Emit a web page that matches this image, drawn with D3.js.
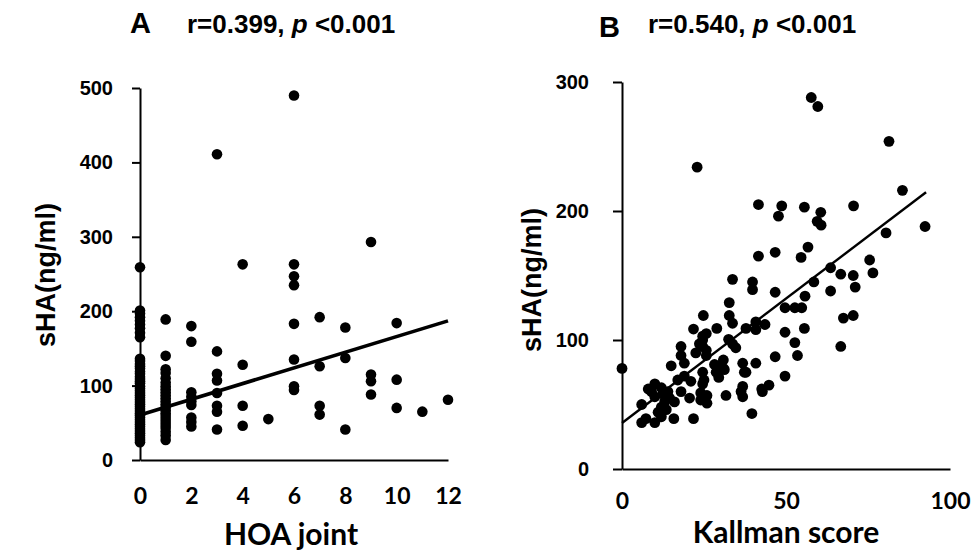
<!DOCTYPE html>
<html>
<head>
<meta charset="utf-8">
<script src="https://cdn.jsdelivr.net/npm/d3@7"></script>
<style>
  body { margin: 0; background: #fff; }
  svg { display: block; }
</style>
</head>
<body>
<svg id="plot" width="977" height="553"></svg>
<script>
// panel A: HOA joint count vs sHA
const hoaJoint = [0, 1, 2, 3, 4, 5, 6, 7, 8, 9, 10, 11, 12];
const shaByHoa = [
  [259, 201, 197, 192, 187, 182, 177, 171, 165, 136, 133, 129, 126, 123, 119, 116, 112, 109, 106, 103, 99, 96, 93, 90, 87, 84, 81, 78, 75, 72, 69, 66, 63, 60, 57, 54, 51, 48, 45, 42, 39, 36, 33, 30, 27, 24],
  [189, 140, 122, 117, 110, 104, 99, 95, 91, 87, 83, 79, 75, 71, 67, 63, 59, 55, 51, 47, 43, 38, 33, 27],
  [180, 159, 91, 85, 79, 74, 57, 51, 45],
  [411, 146, 116, 107, 90, 73, 65, 41],
  [263, 128, 73, 46],
  [55],
  [490, 263, 247, 235, 183, 135, 99, 94],
  [192, 126, 73, 61],
  [178, 137, 41],
  [293, 115, 106, 88],
  [184, 108, 70],
  [65],
  [81]
];
const fitA = [60.6, 10.53];   // intercept, slope

// panel B: Kallman score vs sHA
const kallman = [57.7, 59.7, 81.4, 22.9, 85.5, 41.6, 48.7, 47.7, 55.6, 60.6, 59.5, 60.7, 70.6, 80.5, 92.4, 56.7, 46.7, 41.6, 54.6, 75.5,
  63.6, 66.7, 70.5, 76.5, 33.7, 39.8, 39.8, 58.5, 46.7, 63.6, 71.1, 55.8, 32.7, 49.7, 52.7, 54.8,
  24.8, 32.7, 33.7, 67.5, 70.5, 40.8, 43.6, 37.8, 40.8, 28.9, 55.6, 49.7, 25.7, 21.8, 32.5, 34.7, 52.7, 66.7, 53.5, 46.7,
  24.6, 24.6, 25.7, 30.9, 36.8, 40.8, 28.9, 30.9, 37.8, 49.7, 24.6, 29.5, 31.2, 44.8, 36.8, 42.6, 24.6,
  0, 6, 6, 7.3, 10, 10, 9, 10, 12, 12.5, 13, 12, 14, 14.5, 12, 15.8, 21.8, 15, 18, 18, 19, 17, 19, 21, 18, 20.6,
  24, 24, 25, 23.6, 24.6, 25.7, 22.5, 25.9, 25.9, 28.2, 28.7, 31.7, 33.7, 37.3, 36.3, 36.8, 39.6, 42.8, 11, 13.5, 8, 16];
const shaB = [288, 281, 254, 234, 216, 205, 204, 196, 203, 199, 192, 189, 204, 183, 188, 172, 168, 165, 164, 162,
  156, 151, 150, 152, 147, 145, 139, 145, 137, 138, 141, 134, 129, 125, 125, 125,
  119, 119, 113, 117, 119, 114, 112, 109, 108, 109, 109, 106, 105, 108.5, 100.5, 94, 98, 95, 88, 87,
  100, 95, 88, 84.5, 82, 82, 80, 78, 75, 72, 75, 71, 77, 65, 64, 62, 66,
  78, 50, 36, 39, 36, 66, 60, 56, 63, 58, 52, 48, 60, 55, 40.5, 39, 39, 80, 95, 88, 82, 69, 72, 68, 60, 55,
  59, 53.5, 69, 97, 103, 92, 90, 57, 51, 81, 75, 57, 97, 75, 60, 56, 43, 60, 44, 46, 62, 52];
const fitB = [35.6, 1.93];    // intercept, slope
const fitBEnd = 92.7;

const aXTicks = [0, 2, 4, 6, 8, 10, 12];
const aYTicks = [0, 100, 200, 300, 400, 500];
const bXTicks = [0, 50, 100];
const bYTicks = [0, 100, 200, 300];

const plot = d3.select('#plot');

const numFont = '"Liberation Sans", Arial, sans-serif';
const calFont = 'Lato, "Open Sans", sans-serif';

/* panel A */
const xA = d3.scaleLinear().domain([0, 12]).range([140, 448]);
const yA = d3.scaleLinear().domain([0, 500]).range([460, 88]);

const gA = plot.append('g').classed('panelA', true);

const pointsA = hoaJoint.flatMap((h, i) => shaByHoa[i].map(v => ({x: h, y: v})));

gA.selectAll('circle')
  .data(pointsA)
  .enter().append('circle')
    .attr('cx', d => xA(d.x))
    .attr('cy', d => yA(d.y))
    .attr('r', 5.3)
    .attr('fill', '#000');

gA.append('line')
    .attr('x1', xA(0)).attr('y1', yA(fitA[0]))
    .attr('x2', xA(12)).attr('y2', yA(fitA[0] + fitA[1] * 12))
    .attr('stroke', '#000')
    .attr('stroke-width', 3.6);

gA.append('g')
    .classed('xAxis', true)
    .attr('transform', `translate(0, ${yA(0)})`)
    .call(d3.axisBottom(xA).tickValues(aXTicks).tickSize(0).tickPadding(28));

gA.append('g')
    .classed('yAxis', true)
    .attr('transform', `translate(${xA(0)}, 0)`)
    .call(d3.axisLeft(yA).tickValues(aYTicks).tickSizeInner(8).tickSizeOuter(0).tickPadding(19));

/* panel B */
const xB = d3.scaleLinear().domain([0, 100]).range([622, 950]);
const yB = d3.scaleLinear().domain([0, 300]).range([469, 82]);

const gB = plot.append('g').classed('panelB', true);

gB.selectAll('circle')
  .data(kallman.map((k, i) => ({x: k, y: shaB[i]})))
  .enter().append('circle')
    .attr('cx', d => xB(d.x))
    .attr('cy', d => yB(d.y))
    .attr('r', 5.4)
    .attr('fill', '#000');

gB.append('line')
    .attr('x1', xB(0)).attr('y1', yB(fitB[0]))
    .attr('x2', xB(fitBEnd)).attr('y2', yB(fitB[0] + fitB[1] * fitBEnd))
    .attr('stroke', '#000')
    .attr('stroke-width', 2.4);

gB.append('g')
    .classed('xAxis', true)
    .attr('transform', `translate(0, ${yB(0)})`)
    .call(d3.axisBottom(xB).tickValues(bXTicks).tickSize(0).tickPadding(24));

gB.append('g')
    .classed('yAxis', true)
    .attr('transform', `translate(${xB(0)}, 0)`)
    .call(d3.axisLeft(yB).tickValues(bYTicks).tickSizeInner(9).tickSizeOuter(0).tickPadding(24));

// axis styling
plot.selectAll('.domain, .tick line')
    .attr('stroke', '#000')
    .attr('stroke-width', 2);

plot.selectAll('.xAxis text')
    .attr('fill', '#000')
    .style('font-family', calFont)
    .style('font-weight', 'bold')
    .style('font-size', '23px');

plot.selectAll('.yAxis text')
    .attr('fill', '#000')
    .style('font-family', numFont)
    .style('font-weight', 'bold')
    .style('font-size', '20px');

// axis titles
plot.append('text')
    .attr('x', 291).attr('y', 545)
    .attr('text-anchor', 'middle')
    .style('font-family', calFont).style('font-weight', 'bold').style('font-size', '30px')
    .text('HOA joint');

plot.append('text')
    .attr('x', 786).attr('y', 543)
    .attr('text-anchor', 'middle')
    .style('font-family', calFont).style('font-weight', 'bold').style('font-size', '30px')
    .text('Kallman score');

plot.append('text')
    .attr('transform', 'translate(55, 275) rotate(-90)')
    .attr('text-anchor', 'middle')
    .style('font-family', numFont).style('font-weight', 'bold').style('font-size', '27px')
    .text('sHA(ng/ml)');

plot.append('text')
    .attr('transform', 'translate(541, 280) rotate(-90)')
    .attr('text-anchor', 'middle')
    .style('font-family', numFont).style('font-weight', 'bold').style('font-size', '27px')
    .text('sHA(ng/ml)');

// panel titles
function title(letter, lx, ly, tx, r) {
  plot.append('text')
      .attr('x', lx).attr('y', ly)
      .style('font-family', numFont).style('font-weight', 'bold').style('font-size', '29px')
      .text(letter);

  const t = plot.append('text')
      .attr('x', tx).attr('y', 33)
      .style('font-family', numFont).style('font-weight', 'bold').style('font-size', '26px');
  t.append('tspan').text(`r=${r}, `);
  t.append('tspan').style('font-style', 'italic').text('p');
  t.append('tspan').text(' <0.001');
}

title('A', 130, 33, 187, '0.399');
title('B', 599, 37, 648, '0.540');
</script>
</body>
</html>
